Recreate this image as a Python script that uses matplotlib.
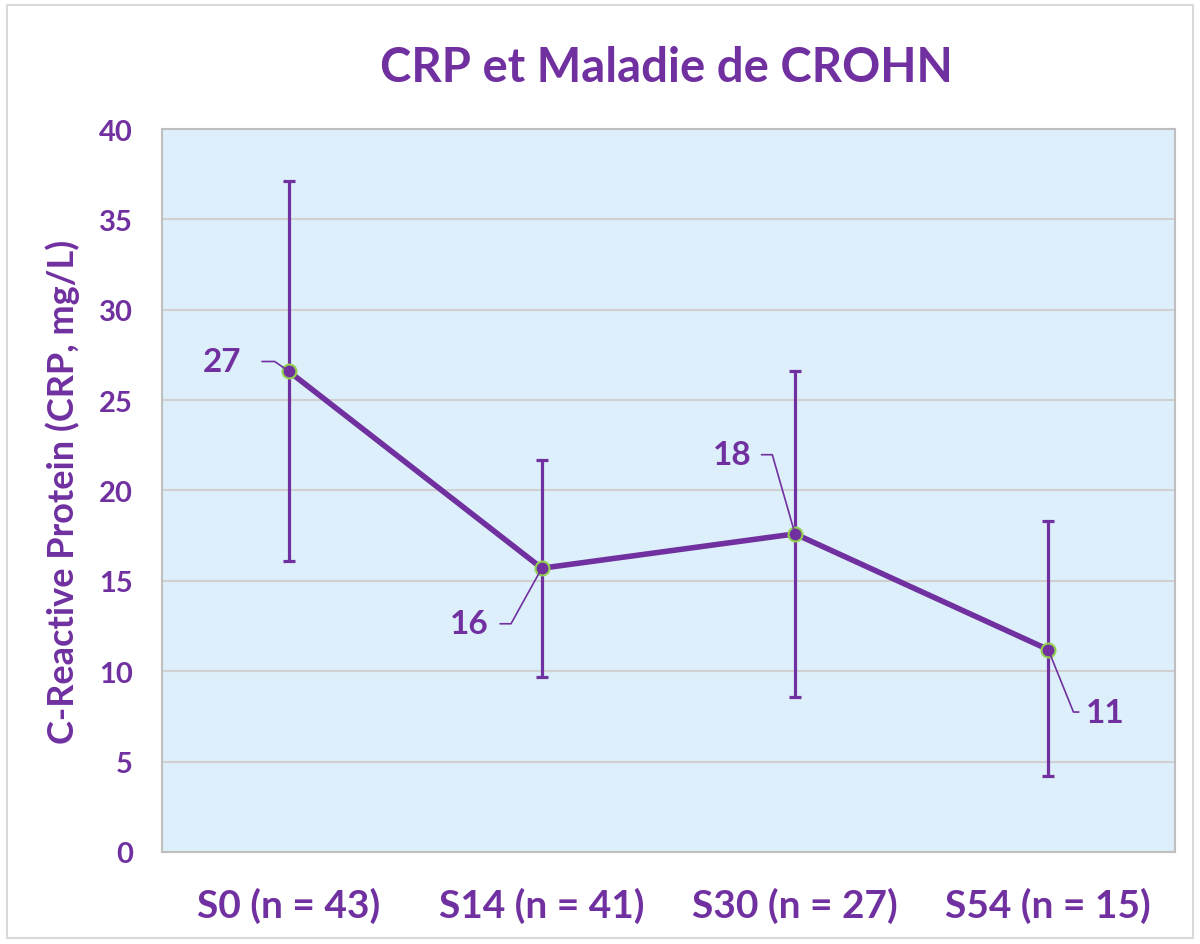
import matplotlib.pyplot as plt
from matplotlib.patches import Rectangle

# data
visits = ['S0 (n = 43)', 'S14 (n = 41)', 'S30 (n = 27)', 'S54 (n = 15)']
crp_mean = [26.6, 15.7, 17.6, 11.2]
crp_upper = [37.1, 21.7, 26.6, 18.3]
crp_lower = [16.1, 9.7, 8.6, 4.2]
point_labels = ['27', '16', '18', '11']

# label placement (offset in points, side, angle of leader, shrink)
label_offsets = [(-48, 7), (-52, -40), (-45, 57), (41, -45)]
label_side = ['left', 'left', 'left', 'right']
leader_angle = [-35, 61, -74, 112]
leader_shrink = [13, 6, 5, 3]

purple = '#7030A0'
plt.rcParams['font.family'] = ['Lato', 'DejaVu Sans']
plt.rcParams['font.weight'] = 'bold'

fig = plt.figure(figsize=(12, 9.45), dpi=100)
ax = fig.add_axes([0.135, 0.0974, 0.844, 0.765])
ax.set_facecolor('#DDEFFA')

x = list(range(len(visits)))
err_low = [m - l for m, l in zip(crp_mean, crp_lower)]
err_up = [u - m for m, u in zip(crp_mean, crp_upper)]

ax.errorbar(x, crp_mean, yerr=[err_low, err_up], fmt='none', ecolor=purple,
            elinewidth=2.3, capsize=4.5, capthick=2.3, zorder=3)
ax.plot(x, crp_mean, color=purple, lw=4, marker='o', markersize=10,
        markerfacecolor=purple, markeredgecolor='#92D050', markeredgewidth=1.5, zorder=4)

for i in range(len(x)):
    if label_side[i] == 'left':
        rel = (1, 0.5)
    else:
        rel = (0, 0.5)
    ax.annotate(point_labels[i], xy=(x[i], crp_mean[i]), xytext=label_offsets[i],
                textcoords='offset points', ha='center', va='center', fontsize=24,
                fontweight='bold', color=purple, zorder=5,
                arrowprops=dict(arrowstyle='-', color=purple, lw=1.2, relpos=rel,
                                shrinkA=leader_shrink[i], shrinkB=0,
                                connectionstyle='angle,angleA=0,angleB=%d,rad=0' % leader_angle[i]))

ax.set_xlim(-0.5, 3.5)
ax.set_ylim(0, 40)
ax.set_yticks(range(0, 41, 5))
ax.set_xticks(x)
ax.set_xticklabels(visits)
ax.tick_params(axis='both', length=0, colors=purple)
ax.tick_params(axis='y', labelsize=21, pad=21)
ax.tick_params(axis='x', labelsize=28, pad=25)
for lab in ax.get_xticklabels() + ax.get_yticklabels():
    lab.set_fontweight('bold')

ax.grid(axis='y', color='#D0D0D0', lw=1.5)
ax.set_axisbelow(True)
for s in ax.spines.values():
    s.set_color('#BFBFBF')
    s.set_linewidth(1.5)

ax.set_ylabel('C-Reactive Protein (CRP, mg/L)', fontsize=26, fontweight='bold',
              color=purple, labelpad=14)
fig.text(0.555, 0.928, 'CRP et Maladie de CROHN', ha='center', va='center',
         fontsize=34, fontweight='bold', color=purple)

fig.patches.append(Rectangle((0.006, 0.006), 0.988, 0.988, transform=fig.transFigure,
                             fill=False, edgecolor='#D9D9D9', lw=1.5))

fig.savefig('out.png', dpi=100)
